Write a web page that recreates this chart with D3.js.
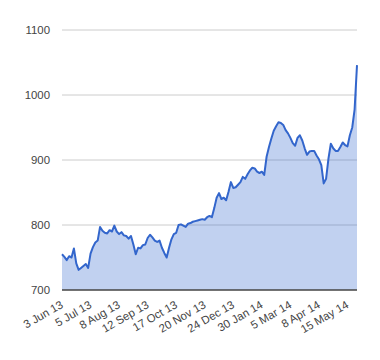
<!DOCTYPE html>
<html>
<head>
<meta charset="utf-8">
<script src="https://cdn.jsdelivr.net/npm/d3@7"></script>
<style>
html,body{margin:0;padding:0;background:#fff;}
svg{display:block;}
text{font-family:"Liberation Sans",Arial,sans-serif;}
</style>
</head>
<body>
<svg id="chart" width="380" height="360"></svg>
<script>
const values = [
  755,751,746,752,750,764,741,731,734,737,
  740,734,756,766,773,776,797,791,788,787,
  792,790,799,790,786,789,784,783,779,783,
  770,755,765,764,769,770,780,785,781,776,
  774,776,765,757,750,765,778,786,788,800,
  801,799,797,802,803,805,806,807,808,809,
  808,812,814,812,826,842,849,840,842,838,
  851,866,857,858,862,866,874,871,878,884,
  888,887,882,880,882,877,905,920,933,945,
  952,958,957,954,946,941,934,926,922,934,
  938,930,918,908,913,914,914,907,901,892,
  864,871,902,925,918,914,914,920,927,923,
  921,938,950,978,1046
];
const tickLabels = ["3 Jun 13","5 Jul 13","8 Aug 13","12 Sep 13","17 Oct 13","20 Nov 13","24 Dec 13","30 Jan 14","5 Mar 14","8 Apr 14","15 May 14"];
const tickIndex = [0,12,24,36,48,60,72,84,96,108,120];
const yTicks = [700,800,900,1000,1100];

const svg = d3.select("#chart");
const x = d3.scaleLinear().domain([0, values.length - 1]).range([62, 357]);
const y = d3.scaleLinear().domain([700, 1100]).range([290, 30]);

// gridlines
svg.append("g").selectAll("line").data(yTicks.filter(d => d !== 700)).join("line")
  .attr("x1", 62).attr("x2", 357)
  .attr("y1", d => y(d)).attr("y2", d => y(d))
  .attr("stroke", "#cccccc").attr("stroke-width", 1);

// area
const area = d3.area().x((d, i) => x(i)).y0(y(700)).y1(d => y(d));
svg.append("path").datum(values).attr("d", area)
  .attr("fill", "#3366cc").attr("fill-opacity", 0.3);

// baseline
svg.append("line").attr("x1", 62).attr("x2", 357)
  .attr("y1", y(700)).attr("y2", y(700))
  .attr("stroke", "#444").attr("stroke-width", 1.5);

// line
const line = d3.line().x((d, i) => x(i)).y(d => y(d));
svg.append("path").datum(values).attr("d", line)
  .attr("fill", "none").attr("stroke", "#3366cc").attr("stroke-width", 2)
  .attr("stroke-linejoin", "round");

// y labels
svg.append("g").selectAll("text").data(yTicks).join("text")
  .attr("x", 50).attr("y", d => y(d)).attr("dy", "0.35em")
  .attr("text-anchor", "end").attr("font-size", 11.4).attr("fill", "#444")
  .text(d => d);

// x labels
svg.append("g").selectAll("text").data(tickIndex).join("text")
  .attr("text-anchor", "end").attr("font-size", 11.4).attr("fill", "#444")
  .attr("transform", d => `translate(${x(d) + 2},${307}) rotate(-30)`)
  .text((d, i) => tickLabels[i]);
</script>
</body>
</html>
